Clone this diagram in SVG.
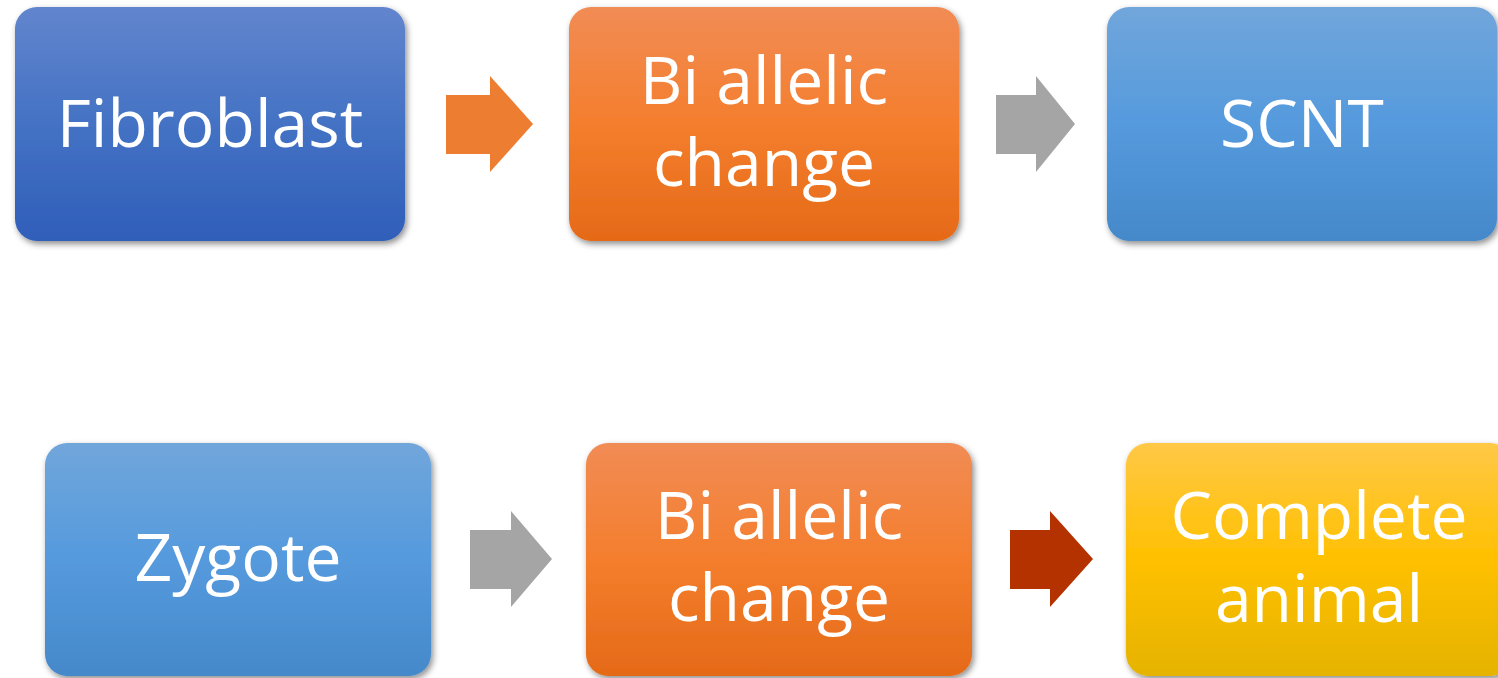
<svg xmlns="http://www.w3.org/2000/svg" width="1498" height="678" viewBox="0 0 1498 678">
<defs>
<linearGradient id="gBlue" x1="0" y1="0" x2="0" y2="1"><stop offset="0" stop-color="#6285CD"/><stop offset="0.5" stop-color="#4472C4"/><stop offset="1" stop-color="#2F5EB9"/></linearGradient>
<linearGradient id="gOrange" x1="0" y1="0" x2="0" y2="1"><stop offset="0" stop-color="#F18C55"/><stop offset="0.5" stop-color="#F47E2D"/><stop offset="1" stop-color="#E56A18"/></linearGradient>
<linearGradient id="gLight" x1="0" y1="0" x2="0" y2="1"><stop offset="0" stop-color="#71A6DB"/><stop offset="0.5" stop-color="#559ADD"/><stop offset="1" stop-color="#4589CA"/></linearGradient>
<linearGradient id="gGold" x1="0" y1="0" x2="0" y2="1"><stop offset="0" stop-color="#FFC846"/><stop offset="0.5" stop-color="#FFC000"/><stop offset="1" stop-color="#E5B300"/></linearGradient>
<filter id="sh" x="-10%" y="-10%" width="125%" height="130%"><feDropShadow dx="2" dy="3" stdDeviation="3" flood-color="#000" flood-opacity="0.45"/></filter>
</defs>
<style>
.box{filter:url(#sh)}
.t{font-family:"Open Sans","Liberation Sans",sans-serif;font-size:66px;fill:#fff;text-anchor:middle}
</style>
<g id="connectors">
<polygon fill="#ED7D31" points="446,95 490,95 490,76 533,124 490,172 490,154 446,154"/>
<polygon fill="#A5A5A5" points="996,95 1036,95 1036,76 1075,124 1036,172 1036,154 996,154"/>
<polygon fill="#A5A5A5" points="470,530 511,530 511,511 552,559 511,607 511,589 470,589"/>
<polygon fill="#B33200" points="1010,530 1050,530 1050,511 1093,559 1050,607 1050,589 1010,589"/>
</g>
<g id="fibroblast"><rect class="box" x="15" y="7" width="390" height="234" rx="22" fill="url(#gBlue)"/><text class="t" x="210" y="147">Fibroblast</text></g>
<g id="biallelic1"><rect class="box" x="569" y="7" width="390" height="234" rx="22" fill="url(#gOrange)"/><text class="t" x="764" y="104">Bi allelic</text><text class="t" x="764" y="186">change</text></g>
<g id="scnt"><rect class="box" x="1107" y="7" width="390" height="234" rx="22" fill="url(#gLight)"/><text class="t" x="1302" y="147">SCNT</text></g>
<g id="zygote"><rect class="box" x="45" y="443" width="386" height="233" rx="22" fill="url(#gLight)"/><text class="t" x="238" y="581">Zygote</text></g>
<g id="biallelic2"><rect class="box" x="586" y="443" width="386" height="233" rx="22" fill="url(#gOrange)"/><text class="t" x="779" y="539">Bi allelic</text><text class="t" x="779" y="621">change</text></g>
<g id="complete"><rect class="box" x="1126" y="443" width="386" height="233" rx="22" fill="url(#gGold)"/><text class="t" x="1319" y="539">Complete</text><text class="t" x="1319" y="622">animal</text></g>
</svg>
